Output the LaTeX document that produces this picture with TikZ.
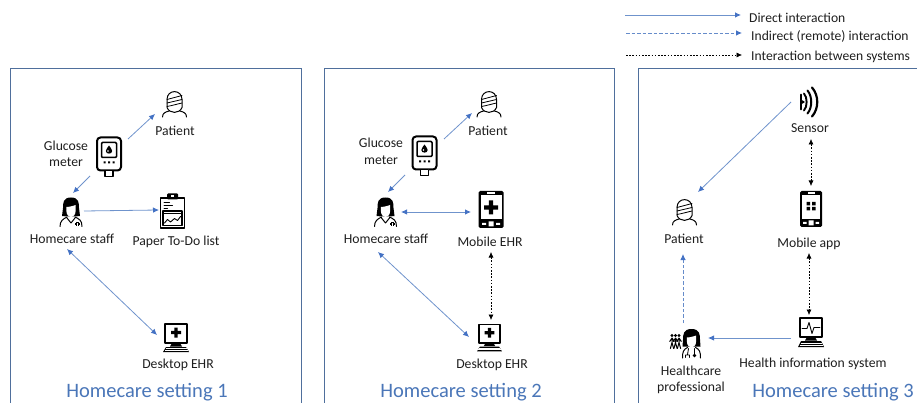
\documentclass[tikz,border=0pt]{standalone}
\usepackage{fontspec}
\setmainfont{Carlito}
\usetikzlibrary{arrows.meta}
\definecolor{flow}{HTML}{6F93CC}
\definecolor{tipblue}{HTML}{4472C4}
\definecolor{framec}{HTML}{4F6F9C}
\definecolor{titlec}{HTML}{4A76B8}
\definecolor{inkc}{HTML}{1E1E1E}
\tikzset{
 x=1pt,y=-1pt,
 lbl/.style={font=\fontsize{13.7}{16.5}\selectfont,text=inkc,align=center,inner sep=0pt},
 ttl/.style={font=\fontsize{20.5}{24}\selectfont,text=titlec,inner sep=0pt},
 leg/.style={font=\fontsize{13.6}{16}\selectfont,text=inkc,inner sep=0pt,anchor=west},
 frm/.style={draw=framec,line width=0.9pt},
 ico/.style={inner sep=0pt,minimum width=#1,minimum height=20pt},
 tipb/.tip={Latex[length=6pt,width=5.5pt,color=tipblue]},
 tipk/.tip={Latex[length=5.5pt,width=5pt,color=black]},
 dir1/.style={draw=flow,line width=0.8pt,-tipb},
 dir2/.style={draw=flow,line width=0.8pt,tipb-tipb},
 indir/.style={draw=flow!80!tipblue,line width=0.8pt,dash pattern=on 3.5pt off 2pt,-tipb},
 sys2/.style={draw=black,line width=0.6pt,dash pattern=on 1.6pt off 1.6pt,tipk-tipk},
 sys1/.style={draw=black,line width=0.6pt,dash pattern=on 1.6pt off 1.6pt,-tipk},
 ln/.style={draw=black,line width=1pt,line cap=round,line join=round},
 patient/.pic={
  \draw[ln] (-7.5,3) -- (-7.5,-5) .. controls (-7.5,-15.5) and (7.5,-15.5) .. (7.5,-5) -- (7.5,3) .. controls (5,9.5) and (-5,9.5) .. (-7.5,3);
  \draw[ln,line width=0.8pt] (-7.5,-5) -- (7.5,-9) (-7.5,-1.5) -- (7.5,-5) (-7.5,2) .. controls (-2,1) and (3,-0.5) .. (7.5,-1.5);
  \draw[ln] (-12,12.5) .. controls (-12,8.5) and (-9,7.5) .. (-5.5,6.5) (12,12.5) .. controls (12,8.5) and (9,7.5) .. (5.5,6.5);
 },
 staff/.pic={
  \fill[black] (0,-14.5) .. controls (-8,-14.5) and (-8,-9) .. (-8,-4) -- (-9,4) -- (-4,4.5) -- (4,4.5) -- (9,4) -- (8,-4) .. controls (8,-9) and (8,-14.5) .. (0,-14.5) -- cycle;
  \fill[white] (-4.6,-5) .. controls (-2,-5) and (2,-6) .. (4.6,-7) -- (4.6,-1) .. controls (4.6,3) and (2,5) .. (0,5) .. controls (-2,5) and (-4.6,3) .. (-4.6,-1) -- cycle;
  \draw[ln] (-4,5) .. controls (-8,7) and (-11,9) .. (-11,14.5) (4,5) .. controls (8,7) and (11,8) .. (11,14.5) (-4,6) -- (0,11) -- (4,6);
  \fill[black] (5.2,9.8) rectangle (8.2,14.5);
  \fill[black] (4.2,10.8) rectangle (9.2,13.3);
  \fill[white] (6.2,10.7) rectangle (7.2,13.7);
 },
 meter/.pic={
  \draw[ln,line width=2pt,rounded corners=3.5pt] (-12,-19.5) rectangle (12,13.5);
  \draw[ln,line width=1.6pt,fill=white] (-4,13.5) rectangle (4,19.5);
  \draw[ln,line width=1.5pt,rounded corners=1pt] (-7.5,-14.5) rectangle (7.5,0.5);
  \fill[black] (0,-11.5) .. controls (-1,-9.5) and (-3.2,-8) .. (-3.2,-6) .. controls (-3.2,-2.5) and (3.2,-2.5) .. (3.2,-6) .. controls (3.2,-8) and (1,-9.5) .. (0,-11.5) -- cycle;
  \fill[white] (-1.1,-6) circle (0.9pt);
  \fill[black] (-5.5,4.5) rectangle (-3.5,6.5) (-1,4.5) rectangle (1,6.5) (3.5,4.5) rectangle (5.5,6.5);
 },
 clipb/.pic={
  \draw[ln,line width=1.6pt] (-12,-13) rectangle (12,17);
  \fill[black,rounded corners=1pt] (-5.5,-17.5) rectangle (5.5,-11.5);
  \fill[white] (-1.5,-15.8) rectangle (1.5,-14);
  \draw[ln,line width=1pt] (-8.5,-8) -- (-3,-8) (-8.5,-5) -- (0,-5) (-8.5,-2) -- (-5,-2);
  \draw[ln,line width=1.2pt] (-9.5,0) rectangle (9.5,14.5);
  \draw[ln,line width=0.8pt] (-9.5,2.5) -- (9.5,2.5);
  \draw[ln,line width=0.9pt] (-8,12) -- (-5,8.5) -- (-2,11) -- (2,7.5) -- (5,9.5) -- (8,5.5);
 },
 desktop/.pic={
  \draw[ln,line width=1.4pt] (-11,-14) rectangle (11,5);
  \fill[black] (-1.6,-10.5) rectangle (1.6,-0.5) (-5,-7.1) rectangle (5,-3.9);
  \fill[black] (-4,5) -- (4,5) -- (6,8.5) -- (-6,8.5) -- cycle;
  \fill[black] (-10,9) -- (10,9) -- (13,14) -- (-13,14) -- cycle;
  \draw[white,line width=0.4pt] (-10.5,10.5) -- (10.5,10.5) (-11.5,12) -- (11.5,12);
 },
 hisys/.pic={
  \draw[ln,line width=1.4pt] (-11,-14.5) rectangle (11,4.5);
  \draw[ln,line width=0.9pt] (-9,-4) -- (-4,-4) -- (-2,-10) -- (1,1) -- (3,-5) -- (9,-5);
  \fill[black] (-4,4.5) -- (4,4.5) -- (6,8) -- (-6,8) -- cycle;
  \fill[black] (-10,8.5) -- (10,8.5) -- (13,14.5) -- (-13,14.5) -- cycle;
  \draw[white,line width=0.4pt] (-10.5,10.5) -- (10.5,10.5) (-11.5,12.5) -- (11.5,12.5);
 },
 mobile/.pic={
  \fill[black,rounded corners=1.5pt] (-12.5,-18.5) rectangle (12.5,18.5);
  \fill[white] (-10.5,-14) rectangle (10.5,10);
  \fill[white] (-4,-17) rectangle (4,-15.5);
  \fill[white] (-2.5,12) rectangle (2.5,17) (-9,13.5) rectangle (-5,15.5) (5,13.5) rectangle (9,15.5);
  \fill[black] (-2.2,-9) rectangle (2.2,5) (-7,-4.2) rectangle (7,0.2);
 },
 appphone/.pic={
  \fill[black,rounded corners=1.5pt] (-11,-18) rectangle (11,18);
  \fill[white] (-9,-14) rectangle (9,10);
  \fill[white] (-3.5,-16.7) rectangle (3.5,-15.3);
  \fill[white] (-2.5,11.5) rectangle (2.5,16.5) (-8,13) rectangle (-4.5,15) (4.5,13) rectangle (8,15);
  \fill[black] (-4.5,-7) rectangle (-1,-3.5) (1,-7) rectangle (4.5,-3.5) (-4.5,-2) rectangle (-1,1.5) (1,-2) rectangle (4.5,1.5);
 },
 sensor/.pic={
  \draw[ln,line width=1.6pt] (-10,-7) -- (-10,8);
  \fill[black] (-10,-2) -- (-6,0.5) -- (-10,3) -- cycle;
  \draw[ln,line width=1.9pt] (-7,-8) .. controls (-3.5,-4) and (-3.5,5) .. (-7,9);
  \draw[ln,line width=2pt] (-3.5,-11) .. controls (1.5,-5) and (1.5,6) .. (-3.5,12);
  \draw[ln,line width=2.2pt] (1,-14) .. controls (8,-6) and (8,7) .. (1,15);
 },
 hcp/.pic={
  \begin{scope}[shift={(6.5,0)}]
  \fill[black] (0,-14.5) .. controls (-8,-14.5) and (-8.5,-9) .. (-8.5,-4) -- (-9,3) -- (9,3) -- (8.5,-4) .. controls (8.5,-9) and (8,-14.5) .. (0,-14.5) -- cycle;
  \fill[white] (-4.6,-6) .. controls (-2,-6) and (2,-7) .. (4.6,-8) -- (4.6,-2) .. controls (4.6,2) and (2,4) .. (0,4) .. controls (-2,4) and (-4.6,2) .. (-4.6,-2) -- cycle;
  \draw[ln] (-4,4) .. controls (-8,6) and (-9,8) .. (-9,14.5) (4,4) .. controls (8,6) and (9,8) .. (9,14.5);
  \draw[ln,line width=0.8pt] (-3,5) -- (-4,11) (-6,14) -- (-6,11.5) -- (-2,11.5) -- (-2,14) (3,5) -- (3,11);
  \fill[black] (3,12) circle (1.8pt);
  \end{scope}
  \foreach \cx in {-13,-9.5,-6}{
   \fill[black] (\cx,-8) circle (1.7pt);
   \draw[ln,line width=1pt] (\cx-2.3,-2) -- (\cx,-5.5) -- (\cx+2.3,-2) (\cx,-5.5) -- (\cx,-1) (\cx-1.6,5) -- (\cx,-1) -- (\cx+1.6,5);
  }
 }
}
\begin{document}
\begin{tikzpicture}
\useasboundingbox (0,0) rectangle (917,403);
% frames
\path[frm] (10,403) -- (10,68) -- (301,68) -- (301,403);
\path[frm] (324,403) -- (324,68) -- (614,68) -- (614,403);
\path[frm] (917,68) -- (638,68) -- (638,403);
% legend
\coordinate (la) at (625,15); \coordinate (lb) at (741,15);
\coordinate (lc) at (626,33); \coordinate (ld) at (742,33);
\coordinate (le) at (626,55); \coordinate (lf) at (742,55);
\draw[dir1] (la) -- (lb);
\draw[indir] (lc) -- (ld);
\draw[sys1] (le) -- (lf);
\node[leg] (lt1) at (749,18) {Direct interaction};
\node[leg] (lt2) at (751,36) {Indirect (remote) interaction};
\node[leg] (lt3) at (751,57) {Interaction between systems};
% panel 1
\node[ico=24pt] (p1) at (174.5,104.5) {}; \pic at (p1) {patient};
\node[lbl] (p1t) at (175,131) {Patient};
\node[ico=24pt] (m1) at (109,157) {}; \pic at (m1) {meter};
\node[lbl] (m1t) at (66,154) {Glucose\\meter};
\node[ico=22pt] (s1) at (71,212) {}; \pic at (s1) {staff};
\node[lbl] (s1t) at (72,239) {Homecare staff};
\node[ico=24pt] (c1) at (172.5,211) {}; \pic at (c1) {clipb};
\node[lbl] (c1t) at (176,242) {Paper To-Do list};
\node[ico=26pt] (d1) at (176,338) {}; \pic at (d1) {desktop};
\node[lbl] (d1t) at (178,365) {Desktop EHR};
\node[ttl] (t1) at (147,392) {Homecare setting 1};
\draw[dir1] ([shift={(19,-18)}]m1.center) -- ([shift={(-19.5,9.5)}]p1.center);
\draw[dir1] ([shift={(-19,19)}]m1.center) -- ([shift={(2,-19)}]s1.center);
\draw[dir1] ([shift={(13,-1)}]s1.center) -- ([shift={(-13.5,-1)}]c1.center);
\draw[dir2] ([shift={(-5,10)}]s1t.center) -- ([shift={(-19,-3)}]d1.center);
% panel 2
\node[ico=24pt] (p2) at (489,104.5) {}; \pic at (p2) {patient};
\node[lbl] (p2t) at (488,131) {Patient};
\node[ico=26pt] (m2) at (424.5,156) {}; \pic at (m2) {meter};
\node[lbl] (m2t) at (381,151.5) {Glucose\\meter};
\node[ico=22pt] (s2) at (385.5,212) {}; \pic at (s2) {staff};
\node[lbl] (s2t) at (386,239) {Homecare staff};
\node[ico=26pt] (e2) at (491,209.5) {}; \pic at (e2) {mobile};
\node[lbl] (e2t) at (490,242) {Mobile EHR};
\node[ico=26pt] (d2) at (489.5,338) {}; \pic[scale=0.96] at (d2) {desktop};
\node[lbl] (d2t) at (492,365) {Desktop EHR};
\node[ttl] (t2) at (461,392) {Homecare setting 2};
\draw[dir1] ([shift={(19.5,-17)}]m2.center) -- ([shift={(-17,8.5)}]p2.center);
\draw[dir1] ([shift={(-19.5,19)}]m2.center) -- ([shift={(2.5,-20)}]s2.center);
\draw[dir2] ([shift={(15.5,0)}]s2.center) -- ([shift={(-20,2.5)}]e2.center);
\draw[dir2] ([shift={(-8,13)}]s2t.center) -- ([shift={(-20.5,-1)}]d2.center);
\draw[sys2] ([shift={(1,10)}]e2t.center) -- ([shift={(1.5,-18)}]d2.center);
% panel 3
\node[ico=22pt] (n3) at (811,101.5) {}; \pic at (n3) {sensor};
\node[lbl] (n3t) at (810,128) {Sensor};
\node[ico=22pt] (e3) at (811,209) {}; \pic at (e3) {appphone};
\node[lbl] (e3t) at (809,244) {Mobile app};
\node[ico=26pt] (h3) at (811,332.5) {}; \pic at (h3) {hisys};
\node[lbl] (h3t) at (813,364) {Health information system};
\node[ico=24pt] (p3) at (684.5,212.5) {}; \pic at (p3) {patient};
\node[lbl] (p3t) at (684,239) {Patient};
\node[ico=32pt] (q3) at (685,343.5) {}; \pic at (q3) {hcp};
\node[lbl] (q3t) at (691,380) {Healthcare\\professional};
\node[ttl] (t3) at (833,392) {Homecare setting 3};
\draw[dir1] ([shift={(-20,0.5)}]n3.center) -- ([shift={(13.5,-20.5)}]p3.center);
\draw[sys2] ([shift={(1,11)}]n3t.center) -- ([shift={(0,-23)}]e3.center);
\draw[sys2] ([shift={(0,9)}]e3t.center) -- ([shift={(-2,-17.5)}]h3.center);
\draw[dir1] ([shift={(-20,5.5)}]h3.center) -- ([shift={(23,-5.5)}]q3.center);
\draw[indir] ([shift={(-2,-20.5)}]q3.center) -- ([shift={(-1,15)}]p3t.center);
\end{tikzpicture}
\end{document}
